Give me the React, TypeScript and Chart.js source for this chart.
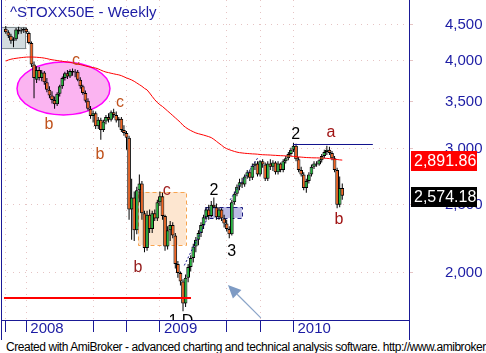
import React, { useEffect, useRef } from 'react';
import { Chart, registerables } from 'chart.js';

Chart.register(...registerables);

const FONT = '"Liberation Sans", Arial, Helvetica, sans-serif';
const NAVY = '#1a1a96';
const AXIS_BLUE = '#1c1ca4';
const GRID = '#e6c4c4';
const UP = '#22b33c';
const DOWN = '#f2621e';

// Weekly candles: week 1 = Nov 2007 ... week 132 = May 2010
const opens = [
  4440, 4390, 4340, 4270, 4290, 4430, 4400, 4420, 4440, 4380,
  4240, 3950, 3760, 3880, 3780, 3850, 3730, 3640, 3570, 3520,
  3470, 3590, 3680, 3780, 3840, 3800, 3870, 3850, 3860, 3760,
  3680, 3600, 3510, 3420, 3340, 3370, 3230, 3300, 3190, 3280,
  3330, 3300, 3380, 3350, 3290, 3310, 3190, 3160, 3110, 2460,
  2560, 2300, 2620, 2680, 2430, 2170, 2420, 2310, 2430, 2390,
  2520, 2570, 2410, 2180, 2300, 2340, 2260, 2060, 2000, 1945,
  1810, 1970, 2040, 2100, 2180, 2230, 2280, 2340, 2400, 2460,
  2410, 2500, 2480, 2400, 2460, 2390, 2350, 2310, 2270, 2520,
  2590, 2650, 2690, 2670, 2740, 2780, 2730, 2840, 2860, 2760,
  2880, 2850, 2720, 2860, 2830, 2870, 2780, 2860, 2800, 2880,
  2910, 2950, 2990, 3030, 2900, 2800, 2760, 2640, 2700, 2760,
  2830, 2860, 2850, 2890, 2930, 2970, 2990, 2960, 2910, 2800,
  2500, 2640,
];
const highs = [
  4480, 4420, 4370, 4320, 4450, 4470, 4450, 4460, 4460, 4400,
  4260, 3990, 3930, 3920, 3880, 3870, 3780, 3680, 3620, 3560,
  3610, 3700, 3800, 3860, 3880, 3890, 3900, 3890, 3880, 3790,
  3700, 3630, 3540, 3450, 3400, 3390, 3330, 3320, 3300, 3350,
  3370, 3400, 3420, 3390, 3330, 3330, 3240, 3180, 3130, 2720,
  2610, 2650, 2760, 2700, 2450, 2450, 2460, 2450, 2460, 2540,
  2610, 2600, 2420, 2330, 2370, 2360, 2280, 2080, 2010, 1960,
  1990, 2060, 2120, 2200, 2250, 2300, 2360, 2420, 2480, 2500,
  2530, 2560, 2510, 2480, 2470, 2420, 2380, 2330, 2540, 2610,
  2670, 2720, 2730, 2760, 2800, 2800, 2860, 2880, 2880, 2890,
  2900, 2870, 2880, 2900, 2890, 2880, 2880, 2870, 2900, 2930,
  2970, 3010, 3060, 3050, 2920, 2830, 2780, 2720, 2780, 2850,
  2880, 2880, 2900, 2950, 2990, 3030, 3020, 2980, 2930, 2820,
  2740, 2680,
];
const lows = [
  4370, 4310, 4230, 4180, 4270, 4360, 4370, 4380, 4370, 4220,
  3920, 3540, 3720, 3750, 3740, 3700, 3610, 3540, 3480, 3420,
  3450, 3560, 3650, 3750, 3770, 3780, 3810, 3790, 3740, 3650,
  3580, 3490, 3400, 3310, 3270, 3200, 3200, 3090, 3170, 3250,
  3270, 3280, 3320, 3270, 3220, 3170, 3130, 2990, 2380, 2230,
  2220, 2270, 2520, 2380, 2140, 2150, 2280, 2280, 2370, 2370,
  2490, 2380, 2150, 2160, 2220, 2240, 2030, 1970, 1920, 1765,
  1790, 1940, 2010, 2070, 2140, 2190, 2250, 2310, 2380, 2380,
  2400, 2470, 2380, 2380, 2370, 2320, 2290, 2240, 2260, 2500,
  2570, 2620, 2640, 2650, 2720, 2700, 2710, 2800, 2740, 2740,
  2820, 2700, 2700, 2800, 2790, 2760, 2760, 2780, 2780, 2860,
  2890, 2930, 2970, 2880, 2780, 2740, 2620, 2600, 2680, 2740,
  2810, 2830, 2840, 2870, 2910, 2940, 2940, 2890, 2780, 2470,
  2480, 2540,
];
const closes = [
  4390, 4340, 4270, 4290, 4430, 4400, 4420, 4440, 4390, 4240,
  3950, 3780, 3880, 3780, 3850, 3730, 3640, 3570, 3520, 3470,
  3590, 3680, 3780, 3840, 3800, 3870, 3850, 3860, 3760, 3680,
  3600, 3510, 3420, 3340, 3370, 3230, 3300, 3190, 3280, 3330,
  3300, 3380, 3350, 3290, 3310, 3190, 3160, 3110, 2460, 2560,
  2300, 2620, 2680, 2430, 2170, 2420, 2310, 2430, 2390, 2520,
  2570, 2410, 2180, 2300, 2340, 2260, 2060, 2000, 1945, 1810,
  1970, 2040, 2100, 2180, 2230, 2280, 2340, 2400, 2460, 2410,
  2500, 2480, 2400, 2460, 2390, 2350, 2310, 2270, 2520, 2590,
  2650, 2690, 2670, 2740, 2780, 2730, 2840, 2860, 2760, 2880,
  2850, 2720, 2860, 2830, 2870, 2780, 2860, 2800, 2880, 2910,
  2950, 2990, 3030, 2900, 2800, 2760, 2640, 2700, 2760, 2830,
  2860, 2850, 2890, 2930, 2970, 2990, 2960, 2910, 2800, 2500,
  2640, 2574.18,
];
// red moving average
const movingAvg = [
  3996, 4010, 4020, 4027, 4032, 4037, 4041, 4045, 4048, 4049,
  4049, 4048, 4046, 4043, 4040, 4035, 4028, 4020, 4013, 4008,
  4003, 3998, 3993, 3988, 3984, 3980, 3972, 3964, 3956, 3950,
  3942, 3933, 3925, 3917, 3911, 3906, 3895, 3880, 3866, 3855,
  3848, 3840, 3833, 3826, 3820, 3810, 3796, 3782, 3770, 3757,
  3740, 3720, 3700, 3680, 3655, 3637, 3600, 3560, 3522, 3490,
  3465, 3445, 3420, 3395, 3370, 3345, 3320, 3295, 3270, 3240,
  3218, 3200, 3185, 3172, 3160, 3152, 3145, 3138, 3130, 3122,
  3112, 3095, 3075, 3055, 3036, 3015, 3002, 2992, 2983, 2975,
  2968, 2963, 2960, 2957, 2955, 2953, 2951, 2950, 2948, 2945,
  2943, 2942, 2941, 2940, 2938, 2937, 2935, 2934, 2933, 2932,
  2931, 2929, 2927, 2925, 2922, 2920, 2918, 2916, 2915, 2914,
  2913, 2913, 2912, 2911, 2910, 2908, 2906, 2903, 2900, 2897,
  2894, 2891.86,
];

const yTickValues = [2000, 2500, 3000, 3500, 4000, 4500];
const yTickLabels = ['2,000', '2,500', '3,000', '3,500', '4,000', '4,500'];
const xTickWeeks = [1, 9, 35, 48, 61, 87, 100, 113];
const xTickLabels = ['', '2008', '', '', '2009', '', '', '2010'];

// horizontal levels [fromWeek, toWeek, value]
const supportLine = [0.3, 73.1, 1843];
const resistanceLine = [112.8, 143.9, 3043];
// dashed trend legs [week, value]
const trendLeg1 = [[70.5, 2050], [79.5, 2390]];
const trendLeg2 = [[88.3, 2539], [99.1, 2913]];

// wave labels
const waveTexts = ['c', 'b', 'c', 'b', 'c', 'b', '2', '3', '2', 'a', 'b', '1 D'];
const waveWeeks = [28.3, 17.8, 45.5, 37.7, 63.7, 52.5, 82.0, 89.0, 113.9, 127.6, 130.7, 69.2];
const waveValues = [3996, 3244, 3486, 2941, 2615, 2033, 2615, 2142, 3140, 3160, 2378, 1706];
const waveColors = ['#c0521c', '#c0521c', '#c0521c', '#c0521c', '#a02222', '#962020', '#000', '#000', '#000', '#a01414', '#a01414', '#000'];

// annotation shapes [week0, week1, value0, value1]
const greyBox = [-0.86, 8.9, 4467, 4156];
const pinkEllipse = [5.37, 41.56, 3983, 3352];
const peachBox = [52.45, 71.13, 2606, 2192];
const blueBox = [78.52, 92.92, 2481, 2394];
const arrowFromTo = [[100.3, 1727], [87.5, 1923]];

const lastLabels = [
  { value: 2891.86, text: '2,891.86', bg: '#ff0000' },
  { value: 2574.18, text: '2,574.18', bg: '#000000' },
];

const overlayPlugin = {
  id: 'overlays',
  beforeDatasetsDraw(chart: any) {
    const { ctx, chartArea: a, scales } = chart;
    const X = (v: number) => scales.x.getPixelForValue(v);
    const Y = (v: number) => scales.y.getPixelForValue(v);
    ctx.save();
    ctx.beginPath();
    ctx.rect(a.left, a.top, a.right - a.left, a.bottom - a.top);
    ctx.clip();
    // grey box
    {
      const [w0, w1, v0, v1] = greyBox;
      const x0 = X(w0), x1 = X(w1), y0 = Y(v0), y1 = Y(v1);
      ctx.fillStyle = '#d3dcdf';
      ctx.fillRect(x0, y0, x1 - x0, y1 - y0);
      ctx.strokeStyle = '#7f8a8e';
      ctx.lineWidth = 1;
      ctx.strokeRect(x0 + 0.5, y0 + 0.5, x1 - x0 - 1, y1 - y0 - 1);
    }
    // pink ellipse
    {
      const [w0, w1, v0, v1] = pinkEllipse;
      const x0 = X(w0), x1 = X(w1), y0 = Y(v0), y1 = Y(v1);
      ctx.beginPath();
      ctx.ellipse((x0 + x1) / 2, (y0 + y1) / 2, (x1 - x0) / 2, (y1 - y0) / 2, 0, 0, Math.PI * 2);
      ctx.fillStyle = '#fbb4f1';
      ctx.fill();
      ctx.strokeStyle = '#ff00ff';
      ctx.lineWidth = 1.5;
      ctx.stroke();
    }
    // peach box
    {
      const [w0, w1, v0, v1] = peachBox;
      const x0 = X(w0), x1 = X(w1), y0 = Y(v0), y1 = Y(v1);
      ctx.fillStyle = '#fde6d0';
      ctx.fillRect(x0, y0, x1 - x0, y1 - y0);
      ctx.setLineDash([4, 3]);
      ctx.strokeStyle = '#f7a450';
      ctx.lineWidth = 1;
      ctx.strokeRect(Math.round(x0) + 0.5, Math.round(y0) + 0.5, Math.round(x1 - x0), Math.round(y1 - y0));
      ctx.setLineDash([]);
    }
    // blue box
    {
      const [w0, w1, v0, v1] = blueBox;
      const x0 = X(w0), x1 = X(w1), y0 = Y(v0), y1 = Y(v1);
      ctx.fillStyle = '#babae4';
      ctx.fillRect(x0, y0, x1 - x0, y1 - y0);
      ctx.setLineDash([4, 3]);
      ctx.strokeStyle = '#1a1a80';
      ctx.lineWidth = 1;
      ctx.strokeRect(Math.round(x0) + 0.5, Math.round(y0) + 0.5, Math.round(x1 - x0), Math.round(y1 - y0));
      ctx.setLineDash([]);
    }
    ctx.restore();
  },
  afterDatasetsDraw(chart: any) {
    const { ctx, chartArea: a, scales } = chart;
    const X = (v: number) => scales.x.getPixelForValue(v);
    const Y = (v: number) => scales.y.getPixelForValue(v);
    ctx.save();
    ctx.beginPath();
    ctx.rect(a.left, a.top, a.right - a.left, a.bottom - a.top);
    ctx.clip();
    // wave labels
    ctx.font = `16px ${FONT}`;
    ctx.textAlign = 'center';
    ctx.textBaseline = 'middle';
    waveTexts.forEach((t, i) => {
      ctx.fillStyle = waveColors[i];
      ctx.fillText(t, X(waveWeeks[i]), Y(waveValues[i]));
    });
    // arrow
    const [[tw, tv], [hw, hv]] = arrowFromTo;
    const tx = X(tw), ty = Y(tv), hx = X(hw), hy = Y(hv);
    const len = Math.hypot(hx - tx, hy - ty);
    const dx = (hx - tx) / len, dy = (hy - ty) / len;
    const bx = hx - dx * 13, by = hy - dy * 13;
    ctx.strokeStyle = '#8aa4c8';
    ctx.lineWidth = 1.2;
    ctx.beginPath();
    ctx.moveTo(tx, ty);
    ctx.lineTo(bx, by);
    ctx.stroke();
    ctx.fillStyle = '#7e9bc4';
    ctx.beginPath();
    ctx.moveTo(hx, hy);
    ctx.lineTo(bx - dy * 6, by + dx * 6);
    ctx.lineTo(bx + dy * 6, by - dx * 6);
    ctx.closePath();
    ctx.fill();
    ctx.restore();
  },
  afterDraw(chart: any) {
    const { ctx, chartArea: a, scales } = chart;
    ctx.save();
    // frame lines
    ctx.strokeStyle = NAVY;
    ctx.lineWidth = 1;
    ctx.beginPath();
    ctx.moveTo(a.left + 0.5, 0);
    ctx.lineTo(a.left + 0.5, 340);
    ctx.moveTo(a.right + 0.5, 0);
    ctx.lineTo(a.right + 0.5, 340);
    ctx.stroke();
    // last value labels
    ctx.font = `16px ${FONT}`;
    ctx.textAlign = 'left';
    ctx.textBaseline = 'middle';
    lastLabels.forEach((l) => {
      const y = Math.round(scales.y.getPixelForValue(l.value)) + 1;
      ctx.fillStyle = l.bg;
      ctx.fillRect(a.right + 2, y - 10, 66, 20);
      ctx.fillStyle = '#ffffff';
      ctx.fillText(l.text, a.right + 5, y + 1);
    });
    ctx.restore();
  },
};

function buildConfig(): any {
  const weeks = closes.map((_, k) => k + 1);
  const bodyColors = closes.map((c, k) => (c >= opens[k] ? UP : DOWN));
  return {
    type: 'bar',
    data: {
      datasets: [
        {
          type: 'line',
          label: 'MA',
          data: weeks.map((w, k) => ({ x: w, y: movingAvg[k] })),
          borderColor: '#ff0000',
          borderWidth: 1,
          pointRadius: 0,
          tension: 0,
          order: 1,
        },
        {
          type: 'line',
          label: 'support',
          data: [{ x: supportLine[0], y: supportLine[2] }, { x: supportLine[1], y: supportLine[2] }],
          borderColor: '#ff0000',
          borderWidth: 2,
          pointRadius: 0,
          order: 1,
        },
        {
          type: 'line',
          label: 'resistance',
          data: [{ x: resistanceLine[0], y: resistanceLine[2] }, { x: resistanceLine[1], y: resistanceLine[2] }],
          borderColor: '#10108c',
          borderWidth: 1,
          pointRadius: 0,
          order: 1,
        },
        {
          type: 'line',
          label: 'trend1',
          data: trendLeg1.map(([x, y]) => ({ x, y })),
          borderColor: '#1a1a90',
          borderWidth: 1,
          borderDash: [2, 2],
          pointRadius: 0,
          order: 1,
        },
        {
          type: 'line',
          label: 'trend2',
          data: trendLeg2.map(([x, y]) => ({ x, y })),
          borderColor: '#1a1a90',
          borderWidth: 1,
          borderDash: [2, 2],
          pointRadius: 0,
          order: 1,
        },
        {
          type: 'bar',
          label: 'body',
          data: weeks.map((w, k) => ({ x: w, y: [opens[k], closes[k]] })),
          backgroundColor: bodyColors,
          borderColor: '#000000',
          borderWidth: 1,
          borderSkipped: false,
          grouped: false,
          categoryPercentage: 1,
          barPercentage: 3.7 / 2.57,
          minBarLength: 1,
          order: 2,
        },
        {
          type: 'bar',
          label: 'wick',
          data: weeks.map((w, k) => ({ x: w, y: [lows[k], highs[k]] })),
          backgroundColor: '#000000',
          borderWidth: 0,
          grouped: false,
          categoryPercentage: 1,
          barPercentage: 1 / 2.57,
          order: 3,
        },
      ],
    },
    options: {
      responsive: false,
      animation: false,
      events: [],
      layout: { padding: { left: 1, right: 0, top: 0, bottom: 0 } },
      plugins: {
        legend: { display: false },
        tooltip: { enabled: false },
        title: { display: false },
      },
      scales: {
        x: {
          type: 'linear',
          min: -0.86,
          max: 157.98,
          offset: false,
          grid: {
            offset: false,
            color: GRID,
            lineWidth: 1,
            drawTicks: true,
            tickLength: 12,
            tickColor: NAVY,
            tickWidth: 1,
          },
          border: { display: true, color: NAVY, width: 1, dash: [1, 5] },
          ticks: {
            autoSkip: false,
            maxRotation: 0,
            minRotation: 0,
            align: 'start',
            labelOffset: 4,
            padding: -12,
            color: AXIS_BLUE,
            font: { family: FONT, size: 15 },
            callback: (_v: any, idx: number) => xTickLabels[idx] ?? '',
          },
          afterBuildTicks: (s: any) => {
            s.ticks = xTickWeeks.map((v) => ({ value: v }));
          },
          afterFit: (s: any) => {
            s.height = 20;
            s.paddingLeft = 0;
            s.paddingRight = 0;
          },
        },
        y: {
          type: 'logarithmic',
          position: 'right',
          min: 1715.4,
          max: 4878,
          grid: { color: GRID, drawTicks: true, tickLength: 4, tickColor: GRID },
          border: { display: true, color: NAVY, width: 1, dash: [1, 5] },
          ticks: {
            autoSkip: false,
            padding: 32,
            color: AXIS_BLUE,
            font: { family: FONT, size: 15 },
            callback: (_v: any, idx: number) => yTickLabels[idx] ?? '',
          },
          afterBuildTicks: (s: any) => {
            s.ticks = yTickValues.map((v) => ({ value: v }));
          },
          afterFit: (s: any) => {
            s.width = 77;
            s.paddingTop = 0;
            s.paddingBottom = 0;
          },
        },
      },
    },
    plugins: [overlayPlugin],
  };
}

export default function App() {
  const ref = useRef<HTMLCanvasElement>(null);
  useEffect(() => {
    document.body.style.margin = '0';
    const chart = new Chart(ref.current as HTMLCanvasElement, buildConfig());
    return () => chart.destroy();
  }, []);
  return (
    <div style={{ position: 'relative', width: 486, height: 353, overflow: 'hidden', background: '#ffffff' }}>
      <canvas ref={ref} width={486} height={340} style={{ position: 'absolute', left: 0, top: 0 }} />
      <div
        style={{
          position: 'absolute',
          left: 10,
          top: 3,
          font: `15px ${FONT}`,
          lineHeight: '17px',
          color: AXIS_BLUE,
          whiteSpace: 'nowrap',
        }}
      >
        ^STOXX50E - Weekly
      </div>
      <div
        style={{
          position: 'absolute',
          left: 6,
          top: 341,
          font: `12px ${FONT}`,
          lineHeight: '13px',
          letterSpacing: '-0.45px',
          color: '#000000',
          whiteSpace: 'nowrap',
        }}
      >
        Created with AmiBroker - advanced charting and technical analysis software. http://www.amibroker.com
      </div>
    </div>
  );
}
